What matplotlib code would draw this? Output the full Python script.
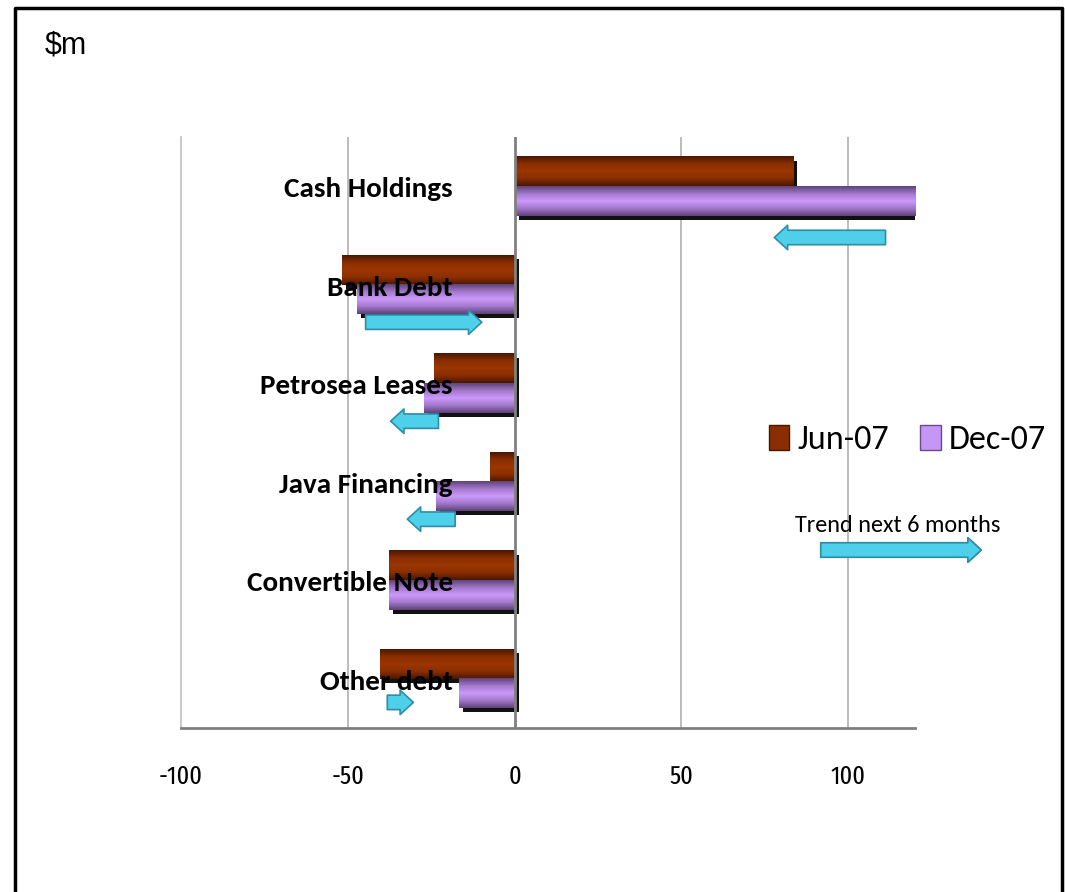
import numpy as np
import matplotlib.pyplot as plt
import matplotlib.transforms as mtransforms
from matplotlib.colors import LinearSegmentedColormap
from matplotlib.patches import Patch

# balance sheet items, $m
categories = ['Cash Holdings', 'Bank Debt', 'Petrosea Leases', 'Java Financing',
              'Convertible Note', 'Other debt']
jun07 = [83.5, -51.7, -24.2, -7.3, -37.8, -40.5]
dec07 = [120.5, -47.3, -27.3, -23.7, -37.8, -16.8]

# trend arrows (start -> end); None where no arrow
trend_start = [112, -45.5, -22, -17, None, -39]
trend_end = [77, -9, -38, -33, None, -29.5]
trend_dy = [0.52, 0.38, 0.385, 0.38, 0, 0.24]

xticks = [-100, -50, 0, 50, 100]

calib = ['Carlito', 'DejaVu Sans']
cond = ['Fira Sans Extra Condensed', 'DejaVu Sans']

fig = plt.figure(figsize=(10.66, 8.92), dpi=100)
ax = fig.add_axes([181 / 1066, 1 - 728 / 892, (915 - 181) / 1066, (728 - 137) / 892])

y = np.arange(len(categories))
h = 0.3

cm_jun = LinearSegmentedColormap.from_list('jun', ['#4a1800', '#8a2e00', '#9c3600', '#8a2e00', '#4a1800'])
cm_dec = LinearSegmentedColormap.from_list('dec', ['#5e4478', '#a378cc', '#cc99fb', '#a378cc', '#5e4478'])
grad = np.linspace(0, 1, 64).reshape(-1, 1)

shadow = ax.transData + mtransforms.ScaledTranslation(4 / 100, -4 / 100, fig.dpi_scale_trans)


def draw_bars(vals, offset, cmap):
    for yi, v in zip(y, vals):
        yc = yi + offset
        ax.barh(yc, v, height=h, color='#111111', transform=shadow, zorder=2)
        ax.imshow(grad, cmap=cmap, aspect='auto', interpolation='bilinear',
                  extent=(min(0, v), max(0, v), yc + h / 2, yc - h / 2), zorder=3)


draw_bars(jun07, -0.15, cm_jun)
draw_bars(dec07, 0.15, cm_dec)

# trend arrows
arrow_props = dict(arrowstyle='simple,head_width=1.1,head_length=0.6,tail_width=0.65',
                   fc='#4fd0ea', ec='#2c8fa6', lw=1.2, mutation_scale=16)
for yi, s, e, dy in zip(y, trend_start, trend_end, trend_dy):
    if s is None:
        continue
    ax.annotate('', xy=(e, yi + dy), xytext=(s, yi + dy), arrowprops=arrow_props, zorder=5)

# category labels sit just left of the zero line, over the bars
lab_tr = mtransforms.offset_copy(ax.transData, fig=fig, x=-62, y=0, units='dots')
for yi, c in zip(y, categories):
    ax.text(0, yi + 0.03, c, transform=lab_tr, ha='right', va='center',
            fontsize=21, fontweight='bold', family=calib, zorder=6)

ax.set_xlim(-100, 120)
ax.set_ylim(len(categories) - 0.5, -0.5)
ax.set_xticks(xticks)
ax.set_xticklabels([str(t) for t in xticks], family=cond, fontsize=19)
ax.tick_params(axis='x', length=0, pad=26)
ax.set_yticks([])
for t in [-50, 50, 100]:
    ax.axvline(t, color='#b0b0b0', lw=1.2, zorder=1)
ax.axvline(0, color='#808080', lw=2, zorder=4)
for side in ['top', 'right']:
    ax.spines[side].set_visible(False)
ax.spines['left'].set_color('#c0c0c0')
ax.spines['left'].set_linewidth(1.2)
ax.spines['bottom'].set_color('#808080')
ax.spines['bottom'].set_linewidth(2)

# legend
handles = [Patch(facecolor='#8a2e00', edgecolor='#4a1800', label='Jun-07'),
           Patch(facecolor='#c496f5', edgecolor='#6a4a88', label='Dec-07')]
fig.legend(handles=handles, loc='center left', bbox_to_anchor=(769 / 1066, 1 - 440 / 892),
           ncol=2, frameon=False, prop={'family': calib, 'size': 24.5},
           handlelength=0.6, handleheight=0.78, handletextpad=0.25, columnspacing=0.9,
           borderpad=0, borderaxespad=0)

# trend key
fig.text(795 / 1066, 1 - 525 / 892, 'Trend next 6 months', family=calib, fontsize=17.5,
         ha='left', va='center')
fig.add_artist(plt.annotate('', xy=(984 / 1066, 1 - 550 / 892), xytext=(818 / 1066, 1 - 550 / 892),
                            xycoords='figure fraction', arrowprops=arrow_props))

fig.text(45 / 1066, 1 - 46 / 892, '$m', family=['Liberation Sans', 'DejaVu Sans'], fontsize=22,
         ha='left', va='center')

# outer frame, open at the bottom
frame_x = [15 / 1066, 15 / 1066, 1062 / 1066, 1062 / 1066]
frame_y = [0, 1 - 8 / 892, 1 - 8 / 892, 0]
fig.add_artist(plt.Line2D(frame_x, frame_y, transform=fig.transFigure, color='black', lw=2.5))

fig.savefig('out.png', dpi=100)
